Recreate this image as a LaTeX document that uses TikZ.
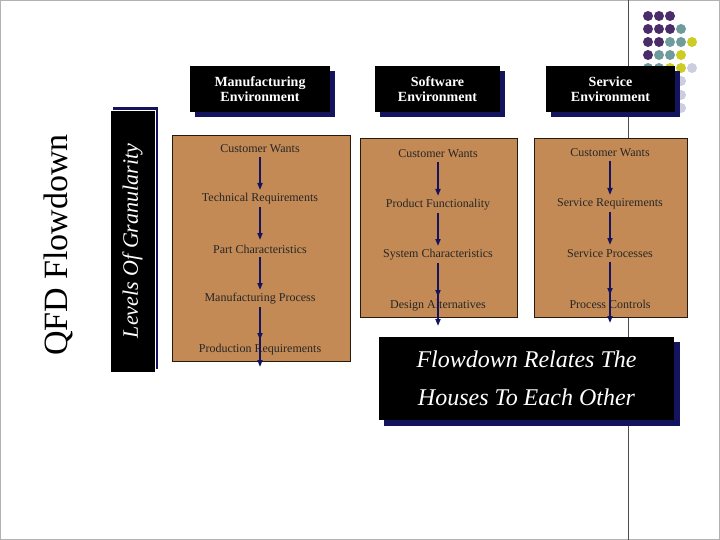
\documentclass[tikz,border=0pt]{standalone}
\usepackage{fontspec}
\setmainfont{Liberation Serif}
\usetikzlibrary{arrows.meta}
\definecolor{brown1}{HTML}{C48A55}
\definecolor{navy}{HTML}{14145E}
\definecolor{dpurple}{HTML}{4B2C6B}
\definecolor{dteal}{HTML}{6E9C9C}
\definecolor{dyellow}{HTML}{CCCC22}
\definecolor{dlav}{HTML}{CDCDE2}
\begin{document}
\begin{tikzpicture}[x=1pt,y=-1pt,
  brownbox/.style={draw=black!80!brown,fill=brown1,line width=0.8pt},
  hdr/.style={fill=black,text=white,font=\fontsize{14}{15}\selectfont\bfseries,align=center,minimum height=46pt,inner sep=2pt},
  item/.style={font=\fontsize{12}{13}\selectfont,text=black!85},
  flow/.style={draw=navy,line width=1.6pt,-{Triangle[length=7pt,width=5pt]}},
  dot/.style={circle,minimum size=10pt,inner sep=0pt}]
\useasboundingbox (0,0) rectangle (720,540);
\draw[gray!60] (0.5,0.5) rectangle (719.5,539.5);
\draw[black!70] (628,0) -- (628,540);
% dots
\foreach \x/\y/\c [count=\i] in {648/16/dpurple,659/16/dpurple,670/16/dpurple,
 648/29/dpurple,659/29/dpurple,670/29/dpurple,681/29/dteal,
 648/42/dpurple,659/42/dpurple,670/42/dteal,681/42/dteal,692/42/dyellow,
 648/55/dpurple,659/55/dteal,670/55/dteal,681/55/dyellow,
 648/68/dteal,659/68/dteal,670/68/dyellow,681/68/dyellow,692/68/dlav,
 681/81/dlav,681/95/dlav,681/108/dlav}
 \node[dot,fill=\c] (d\i) at (\x,\y) {};
% left titles
\node[rotate=90,font=\fontsize{34}{36}\selectfont] (qfd) at (58,245) {QFD Flowdown};
\fill[navy] (113,107) rectangle (158,369);
\node[fill=black,draw=white,line width=0.6pt,text=white,rotate=90,minimum width=262pt,minimum height=45pt,inner sep=0pt,font=\fontsize{22}{24}\selectfont\itshape] (lev) at (132.5,241) {Levels Of Granularity};
% brown boxes
\draw[brownbox] (172,135) rectangle (350,361);
\draw[brownbox] (360,138) rectangle (517,317);
\draw[brownbox] (534,138) rectangle (687,317);
% headers
\fill[navy] (195,71) rectangle (335,117);
\node[hdr,minimum width=140pt] (h1) at (260,89) {Manufacturing\\Environment};
\fill[navy] (380,71) rectangle (505,117);
\node[hdr,minimum width=125pt] (h2) at (437.5,89) {Software\\Environment};
\fill[navy] (551,71) rectangle (680,117);
\node[hdr,minimum width=129pt] (h3) at (610.5,89) {Service\\Environment};
% column 1
\node[item] (a1) at (260,149) {Customer Wants};
\node[item] (a2) at (260,199) {Technical Requirements};
\node[item] (a3) at (260,249) {Part Characteristics};
\node[item] (a4) at (260,299) {Manufacturing Process};
\node[item] (a5) at (260,350) {Production Requirements};
\coordinate (a6) at (260,367);
\draw[flow] (260,157) -- (260,190);
\draw[flow] (260,207) -- (260,240);
\draw[flow] (260,257) -- (260,290);
\draw[flow] (260,307) -- (260,340);
\draw[flow] (260,330) -- (a6);
% column 2
\node[item] (b1) at (438,154) {Customer Wants};
\node[item] (b2) at (438,205) {Product Functionality};
\node[item] (b3) at (438,255) {System Characteristics};
\node[item] (b4) at (438,306) {Design Alternatives};
\coordinate (b5) at (438,326);
\draw[flow] (438,162) -- (438,196);
\draw[flow] (438,213) -- (438,246);
\draw[flow] (438,263) -- (438,297);
\draw[flow] (438,291) -- (b5);
% column 3
\node[item] (c1) at (610,153) {Customer Wants};
\node[item] (c2) at (610,204) {Service Requirements};
\node[item] (c3) at (610,254) {Service Processes};
\node[item] (c4) at (610,304) {Process Controls};
\coordinate (c5) at (610,323);
\draw[flow] (610,161) -- (610,195);
\draw[flow] (610,212) -- (610,245);
\draw[flow] (610,262) -- (610,295);
\draw[flow] (610,289) -- (c5);
% flowdown box
\fill[navy] (384,342) rectangle (680,426);
\node[fill=black,text=white,minimum width=295pt,minimum height=83pt,align=center,font=\fontsize{24}{38}\selectfont\itshape] (fd) at (526.5,378.5) {Flowdown Relates The\\Houses To Each Other};
\end{tikzpicture}
\end{document}
